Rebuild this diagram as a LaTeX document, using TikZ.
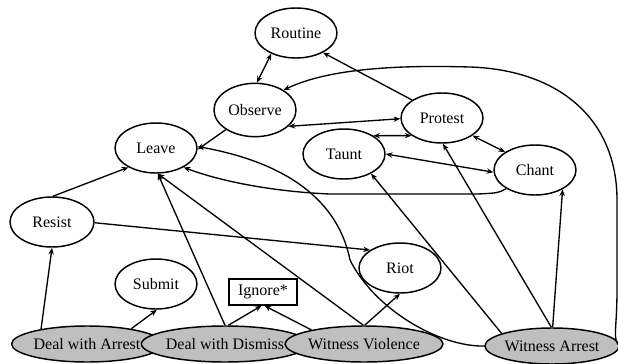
\documentclass[tikz,border=0pt]{standalone}
\usepackage{fontspec}
\setmainfont{Liberation Serif}
\usetikzlibrary{shapes.geometric,arrows.meta}

\tikzset{
	state/.style={ellipse, draw, line width=1.1pt, minimum width=61.5pt, minimum height=37.5pt, inner sep=0pt, font=\fontsize{12}{14}\selectfont},
	cue/.style={state, fill=black!25, minimum height=27pt},
	link/.style={line width=1pt, -{Stealth[length=5pt,width=4pt]}},
	both/.style={link, {Stealth[length=5pt,width=4pt]}-{Stealth[length=5pt,width=4pt]}},
}

\begin{document}
\begin{tikzpicture}[x=0.75pt,y=-0.75pt]
			%%%%% START %%%%%
			\useasboundingbox (0,0) rectangle (618,364);
			
			\node[state] (routine) at (296,33) {Routine};
			\node[state, minimum height=40pt] (observe) at (255,110) {Observe};
			\node[state] (leave) at (156,148) {Leave};
			\node[state] (protest) at (442,118) {Protest};
			\node[state] (taunt) at (344,154) {Taunt};
			\node[state] (chant) at (535,170) {Chant};
			\node[state, minimum width=63pt] (resist) at (52,222) {Resist};
			\node[state] (submit) at (156,284) {Submit};
			\node[state] (riot) at (400,268) {Riot};
			\node[draw, line width=1.1pt, minimum width=51pt, minimum height=19.5pt, inner sep=0pt,
				font=\fontsize{12}{14}\selectfont] (ignore) at (263,292) {Ignore*};
			
			\node[cue, minimum width=90pt] (dArrest) at (87,344) {Deal with Arrest};
			\node[cue, minimum width=93pt] (dDismiss) at (225,344) {Deal with Dismiss};
			\node[cue, minimum width=100.5pt] (wViolence) at (364,344) {Witness Violence};
			\node[cue, minimum width=78pt] (wArrest) at (552,346) {Witness Arrest};
			
			% top group
			\draw[both] (routine.220) -- (observe.86);
			\draw[link] (protest.149) -- (routine.324);
			\draw[both] (observe.334) -- (protest.181);
			\draw[link] (observe.214) -- (leave.358);
			\draw[both] (taunt.32) -- (protest.210);
			\draw[both] (protest.330) -- (chant.149);
			\draw[both] (chant.183) -- (taunt.0);
			\draw[link] (chant.213) .. controls (498,193) .. (478,194) -- (330,194)
				.. controls (280,192) and (225,183) .. (leave.325);
			
			% left group
			\draw[link] (resist.88) -- (leave.215);
			\draw[link] (resist.359) -- (riot.149);
			\draw[link] (dArrest.162) -- (resist.270);
			\draw[link] (dArrest.19) -- (submit.272);
			\draw[link] (dDismiss.90) -- (leave.274);
			\draw[link] (dDismiss.80) -- (ignore.264);
			
			% witness violence
			\draw[link] (wViolence.92) -- (leave.274);
			\draw[link] (wViolence.88) -- (riot.270);
			\draw[link] (wViolence.165) -- (ignore.276);
			
			% witness arrest
			\draw[link] (wArrest.166) -- (taunt.324);
			\draw[link] (wArrest.92) -- (protest.272);
			\draw[link] (wArrest.88) -- (chant.325);
			\draw[link] (wArrest.west) .. controls (440,347) and (375,310) .. (350,260)
				.. controls (340,210) and (300,165) .. (leave.2);
			\draw[link] (wArrest.east) .. controls (612,340) and (617,330) .. (617,290) -- (617,200)
				.. controls (617,120) and (560,70) .. (470,67)
				.. controls (400,65) and (330,68) .. (observe.35);
			
			%%%%% END %%%%%
\end{tikzpicture}
\end{document}
